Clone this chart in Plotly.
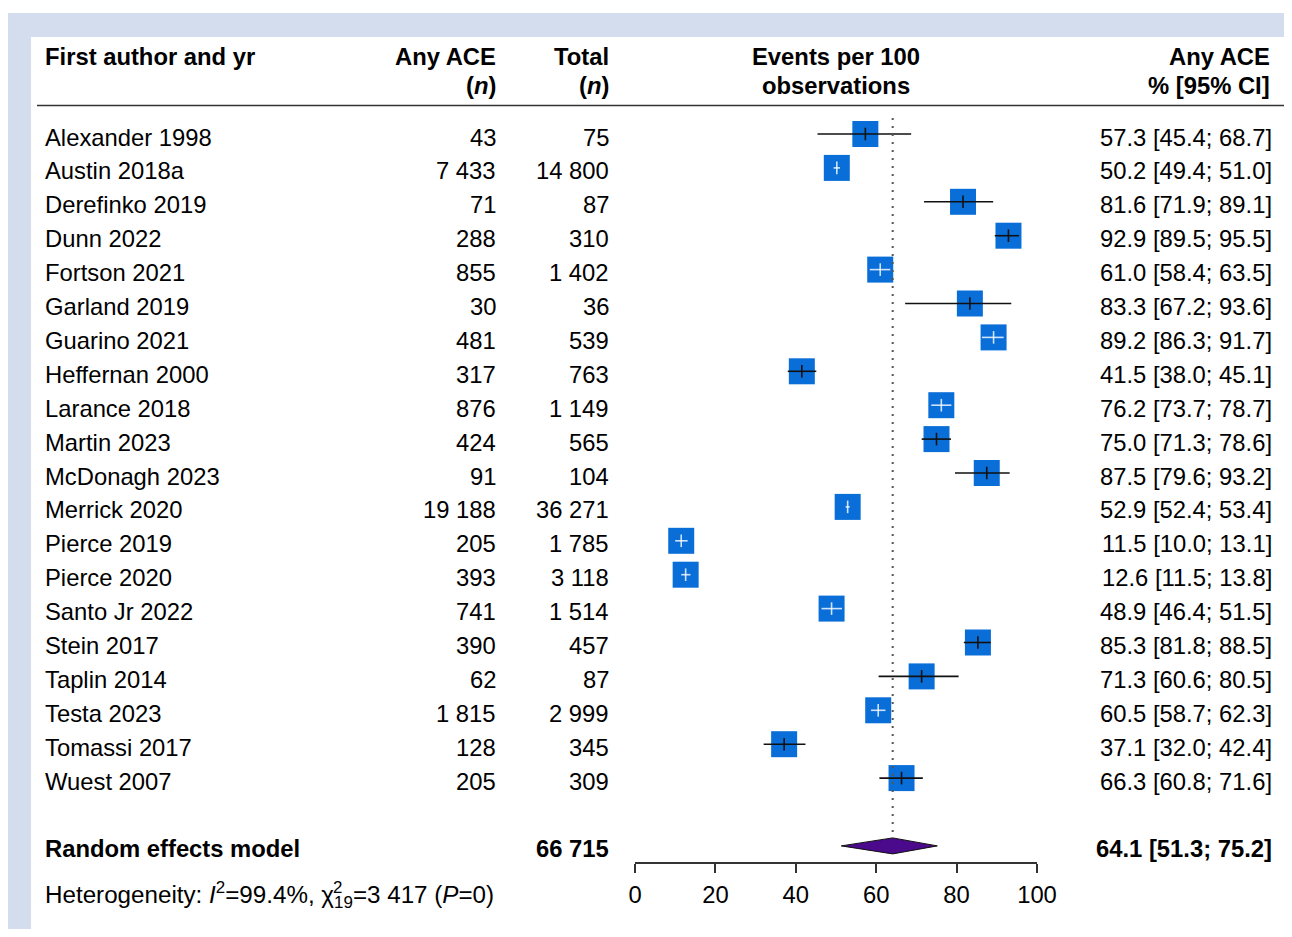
import plotly.graph_objects as go

# ---------------- data ----------------
authors = ["Alexander 1998", "Austin 2018a", "Derefinko 2019", "Dunn 2022", "Fortson 2021",
           "Garland 2019", "Guarino 2021", "Heffernan 2000", "Larance 2018", "Martin 2023",
           "McDonagh 2023", "Merrick 2020", "Pierce 2019", "Pierce 2020", "Santo Jr 2022",
           "Stein 2017", "Taplin 2014", "Testa 2023", "Tomassi 2017", "Wuest 2007"]
events = [43, 7433, 71, 288, 855, 30, 481, 317, 876, 424, 91, 19188, 205, 393, 741, 390, 62, 1815, 128, 205]
totals = [75, 14800, 87, 310, 1402, 36, 539, 763, 1149, 565, 104, 36271, 1785, 3118, 1514, 457, 87, 2999, 345, 309]
est = [57.3, 50.2, 81.6, 92.9, 61.0, 83.3, 89.2, 41.5, 76.2, 75.0, 87.5, 52.9, 11.5, 12.6, 48.9, 85.3, 71.3, 60.5, 37.1, 66.3]
lower = [45.4, 49.4, 71.9, 89.5, 58.4, 67.2, 86.3, 38.0, 73.7, 71.3, 79.6, 52.4, 10.0, 11.5, 46.4, 81.8, 60.6, 58.7, 32.0, 60.8]
upper = [68.7, 51.0, 89.1, 95.5, 63.5, 93.6, 91.7, 45.1, 78.7, 78.6, 93.2, 53.4, 13.1, 13.8, 51.5, 88.5, 80.5, 62.3, 42.4, 71.6]

pooled_label = "Random effects model"
pooled_total = 66715
pooled_est = 64.1
pooled_lower = 51.3
pooled_upper = 75.2
het_I2 = "99.4%"
het_df = "19"
het_Q = "3 417"
het_P = "0"

x_ticks = [0, 20, 40, 60, 80, 100]

# ---------------- geometry (screen pixels, page has 8px body margin) ----------------
OFF = 8
W, H = 1292 - 2 * OFF, 937 - 2 * OFF


def fx(px):          # screen x pixel -> paper x
    return (px - OFF) / W


def fy(px):          # screen y pixel -> paper y
    return 1 - (px - OFF) / H


ROW0, ROWH = 134.0, 33.9          # screen pixel centre of first row, row height


def row_of(px):
    return (px - ROW0) / ROWH


AX_L, AX_R = 635, 1037
AX_Y = 862
PANEL_TOP = 37
unit_px = (AX_R - AX_L) / 100.0
BOX = 26
half_box = (BOX / 2) / unit_px

FONT = "Liberation Sans, Arial, sans-serif"
FS = 23.8
TXT_SHIFT = -3  # text visual centre slightly lower than marks
SQ_COL = "#0a6ed9"
DIA_COL = "#4b0a8c"


def fmt_n(n):
    return f"{n:,}".replace(",", " ")


def fmt_ci(e, l, u):
    return f"{e:.1f} [{l:.1f}; {u:.1f}]"


fig = go.Figure()
n = len(authors)
rows = list(range(n))

# squares
fig.add_trace(go.Scatter(x=est, y=rows, mode="markers",
                         marker=dict(symbol="square", size=BOX, color=SQ_COL, line=dict(width=0)),
                         hoverinfo="skip", showlegend=False))

# CI lines: black if exceeding the box, white if inside
bx, by, wx, wy = [], [], [], []
btx, bty, wtx, wty = [], [], [], []
for i in range(n):
    inside = (est[i] - lower[i] < half_box) and (upper[i] - est[i] < half_box)
    if inside:
        wx += [lower[i], upper[i], None]; wy += [i, i, None]
        wtx.append(est[i]); wty.append(i)
    else:
        bx += [lower[i], upper[i], None]; by += [i, i, None]
        btx.append(est[i]); bty.append(i)

WHITE_LN = "rgba(255,255,255,0.8)"
fig.add_trace(go.Scatter(x=bx, y=by, mode="lines", line=dict(color="#111111", width=1.6),
                         hoverinfo="skip", showlegend=False))
fig.add_trace(go.Scatter(x=wx, y=wy, mode="lines", line=dict(color=WHITE_LN, width=1.6),
                         hoverinfo="skip", showlegend=False))
fig.add_trace(go.Scatter(x=btx, y=bty, mode="markers",
                         marker=dict(symbol="line-ns", size=9, line=dict(color="#111111", width=1.6)),
                         hoverinfo="skip", showlegend=False))
fig.add_trace(go.Scatter(x=wtx, y=wty, mode="markers",
                         marker=dict(symbol="line-ns", size=9, line=dict(color=WHITE_LN, width=1.6)),
                         hoverinfo="skip", showlegend=False))

# pooled diamond
prow = n + 1
dh = 8 / ROWH
fig.add_trace(go.Scatter(x=[pooled_lower, pooled_est, pooled_upper, pooled_est, pooled_lower],
                         y=[prow, prow - dh, prow, prow + dh, prow],
                         mode="lines", fill="toself", fillcolor=DIA_COL,
                         line=dict(color="#111111", width=1),
                         hoverinfo="skip", showlegend=False))

# dotted reference line at pooled estimate
fig.add_trace(go.Scatter(x=[pooled_est, pooled_est], y=[row_of(118), prow - dh],
                         mode="lines", line=dict(color="#555555", width=2, dash="2px,6px"),
                         hoverinfo="skip", showlegend=False))

annots = []


def txt_row(text, xpx, row, anchor, bold=False):
    annots.append(dict(text=f"<b>{text}</b>" if bold else text, x=fx(xpx), xref="paper",
                       y=row, yref="y", xanchor=anchor, yanchor="middle", showarrow=False,
                       borderpad=0, borderwidth=0,
                       yshift=TXT_SHIFT, font=dict(family=FONT, size=FS, color="black")))


def txt_px(text, xpx, ypx, anchor, bold=False, size=FS):
    annots.append(dict(text=f"<b>{text}</b>" if bold else text, x=fx(xpx), xref="paper",
                       y=fy(ypx), yref="paper", xanchor=anchor, yanchor="middle", showarrow=False,
                       borderpad=0, borderwidth=0,
                       font=dict(family=FONT, size=size, color="black")))


X_AUTH, X_ACE, X_TOT, X_CI, X_HEAD = 45, 496, 609, 1272, 836

for i in range(n):
    txt_row(authors[i], X_AUTH, i, "left")
    txt_row(fmt_n(events[i]), X_ACE, i, "right")
    txt_row(fmt_n(totals[i]), X_TOT, i, "right")
    txt_row(fmt_ci(est[i], lower[i], upper[i]), X_CI, i, "right")

# headers
H1, H2 = 56, 85
txt_px("First author and yr", X_AUTH, H1, "left", bold=True)
txt_px("Any ACE", X_ACE, H1, "right", bold=True)
txt_px("(<i>n</i>)", X_ACE, H2, "right", bold=True)
txt_px("Total", X_TOT, H1, "right", bold=True)
txt_px("(<i>n</i>)", X_TOT, H2, "right", bold=True)
txt_px("Events per 100", X_HEAD, H1, "center", bold=True)
txt_px("observations", X_HEAD, H2, "center", bold=True)
txt_px("Any ACE", X_CI - 2, H1, "right", bold=True)
txt_px("% [95% CI]", X_CI - 2, H2, "right", bold=True)

# pooled row
txt_row(pooled_label, X_AUTH, prow, "left", bold=True)
txt_row(fmt_n(pooled_total), X_TOT, prow, "right", bold=True)
txt_row(fmt_ci(pooled_est, pooled_lower, pooled_upper), X_CI, prow, "right", bold=True)

# heterogeneity (chi-square: superscript stacked over the subscript)
HY = 895
HFS = 24.2
txt_px(f"Heterogeneity: <i>I</i><sup>2</sup>={het_I2}, χ<sub>{het_df}</sub>={het_Q} (<i>P</i>={het_P})",
       X_AUTH, HY, "left", size=HFS)
txt_px("2", 333, HY - 8, "left", size=HFS * 0.7)

shapes = [
    dict(type="rect", xref="paper", yref="paper", x0=0, x1=1, y0=0, y1=fy(13),
         fillcolor="#d3ddee", line=dict(width=0), layer="below"),
    dict(type="rect", xref="paper", yref="paper", x0=fx(31), x1=1, y0=0, y1=fy(PANEL_TOP),
         fillcolor="white", line=dict(width=0), layer="below"),
    dict(type="line", xref="paper", yref="paper", x0=fx(37), x1=1,
         y0=fy(105.5), y1=fy(105.5), line=dict(color="#333333", width=1.6)),
]

fig.update_layout(
    template="none",
    width=W, height=H, margin=dict(l=0, r=0, t=0, b=0, pad=0, autoexpand=False),
    paper_bgcolor="white", plot_bgcolor="rgba(0,0,0,0)",
    annotations=annots, shapes=shapes, showlegend=False,
    xaxis=dict(domain=[fx(AX_L), fx(AX_R)], range=[0, 100], tickvals=x_ticks,
               ticks="outside", ticklen=9, tickwidth=1.6, tickcolor="#333333",
               showline=True, linewidth=1.6, linecolor="#333333", automargin=False,
               showgrid=False, zeroline=False, ticklabelstandoff=2,
               tickfont=dict(family=FONT, size=FS, color="black"), fixedrange=True),
    yaxis=dict(domain=[fy(AX_Y), fy(PANEL_TOP)], automargin=False,
               range=[row_of(AX_Y), row_of(PANEL_TOP)], visible=False,
               showgrid=False, zeroline=False, fixedrange=True),
)

fig.write_html("out.html")
